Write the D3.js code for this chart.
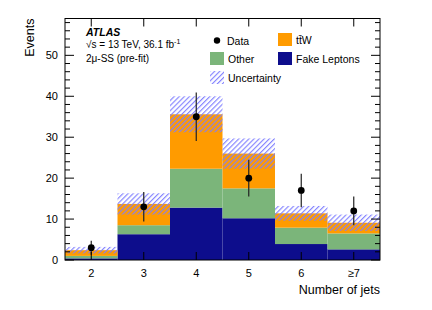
<!DOCTYPE html>
<html>
<head>
<meta charset="utf-8">
<script src="https://cdn.jsdelivr.net/npm/d3@7"></script>
<style>
  body { margin: 0; background: #fff; }
  svg { display: block; font-family: "Liberation Sans", Arial, sans-serif; }
</style>
</head>
<body>
<div id="chart"></div>
<script>
// number of jets bins
const categories = ["2", "3", "4", "5", "6", "\u22657"];
const fakeLeptons = [0.4, 6.3, 12.8, 10.2, 3.9, 2.6];
const other = [0.6, 2.2, 9.5, 7.3, 4.0, 3.9];
const ttW = [1.4, 5.2, 13.3, 8.5, 3.5, 2.6];
const uncertainty = [0.8, 2.6, 4.4, 3.7, 1.8, 2.0];
const dataValues = [3, 13, 35, 20, 17, 12];
const dataErrors = [1.7, 3.6, 5.9, 4.5, 4.1, 3.5];
const yMajorTicks = [0, 10, 20, 30, 40, 50];

const width = 432, height = 310;
const margin = { top: 18.5, right: 52, bottom: 50, left: 65 };

const colors = { fake: "#0d0d8c", other: "#7bb57a", ttW: "#ff9b00", hatch: "#7d7dff" };

const svg = d3.select("#chart").append("svg")
  .attr("width", width)
  .attr("height", height);

const defs = svg.append("defs");
const pat = defs.append("pattern")
  .attr("id", "hatch")
  .attr("patternUnits", "userSpaceOnUse")
  .attr("width", 3.6)
  .attr("height", 3.6)
  .attr("patternTransform", "rotate(45)");
pat.append("line")
  .attr("x1", 0.6).attr("y1", 0).attr("x2", 0.6).attr("y2", 3.6)
  .attr("stroke", colors.hatch)
  .attr("stroke-width", 1.1);

const x = d3.scaleLinear().domain([0, categories.length]).range([margin.left, width - margin.right]);
const y = d3.scaleLinear().domain([0, 59]).range([height - margin.bottom, margin.top]);

const rows = categories.map((c, i) => ({ i: i, fake: fakeLeptons[i], other: other[i], ttW: ttW[i] }));
const stack = d3.stack().keys(["fake", "other", "ttW"]);
const series = stack(rows);

// stacked backgrounds
svg.append("g").selectAll("g")
  .data(series)
  .join("g")
  .attr("fill", d => colors[d.key])
  .selectAll("rect")
  .data(d => d)
  .join("rect")
  .attr("x", d => x(d.data.i))
  .attr("width", d => x(d.data.i + 1) - x(d.data.i))
  .attr("y", d => y(d[1]))
  .attr("height", d => y(d[0]) - y(d[1]));

// uncertainty band
const totals = series[series.length - 1].map(d => d[1]);
svg.append("g").selectAll("rect")
  .data(totals)
  .join("rect")
  .attr("x", (d, i) => x(i))
  .attr("width", (d, i) => x(i + 1) - x(i))
  .attr("y", (d, i) => y(d + uncertainty[i]))
  .attr("height", (d, i) => y(d - uncertainty[i]) - y(d + uncertainty[i]))
  .attr("fill", "url(#hatch)");

// data points
const pts = svg.append("g");
pts.selectAll("line")
  .data(dataValues)
  .join("line")
  .attr("x1", (d, i) => x(i + 0.5))
  .attr("x2", (d, i) => x(i + 0.5))
  .attr("y1", (d, i) => y(Math.max(0, d - dataErrors[i])))
  .attr("y2", (d, i) => y(d + dataErrors[i]))
  .attr("stroke", "#222")
  .attr("stroke-width", 1.2);
pts.selectAll("circle")
  .data(dataValues)
  .join("circle")
  .attr("cx", (d, i) => x(i + 0.5))
  .attr("cy", d => y(d))
  .attr("r", 3.4)
  .attr("fill", "#000");

// frame and ticks
const x0 = x(0), x1 = x(categories.length), yb = y(0), yt = y.range()[1];
const axes = svg.append("g").attr("stroke", "#000").attr("stroke-width", 1);
axes.append("rect")
  .attr("x", x0).attr("y", yt)
  .attr("width", x1 - x0).attr("height", yb - yt)
  .attr("fill", "none");

d3.range(0, 59, 2).forEach(v => {
  const len = v % 10 === 0 ? 9 : 5;
  axes.append("line").attr("x1", x0).attr("x2", x0 + len).attr("y1", y(v)).attr("y2", y(v));
  axes.append("line").attr("x1", x1).attr("x2", x1 - len).attr("y1", y(v)).attr("y2", y(v));
});

categories.forEach((c, i) => {
  axes.append("line").attr("x1", x(i + 0.5)).attr("x2", x(i + 0.5)).attr("y1", yb).attr("y2", yb - 8);
  axes.append("line").attr("x1", x(i + 0.5)).attr("x2", x(i + 0.5)).attr("y1", yt).attr("y2", yt + 8);
});

// tick labels
svg.append("g").selectAll("text")
  .data(yMajorTicks)
  .join("text")
  .attr("x", x0 - 7)
  .attr("y", d => y(d) + 4)
  .attr("text-anchor", "end")
  .attr("font-size", 11)
  .text(d => d);

svg.append("g").selectAll("text")
  .data(categories)
  .join("text")
  .attr("x", (d, i) => x(i + 0.5))
  .attr("y", yb + 17)
  .attr("text-anchor", "middle")
  .attr("font-size", 11)
  .text(d => d);

svg.append("text")
  .attr("x", x1)
  .attr("y", yb + 34)
  .attr("text-anchor", "end")
  .attr("font-size", 12.5)
  .text("Number of jets");

svg.append("text")
  .attr("transform", `translate(34,${yt}) rotate(-90)`)
  .attr("text-anchor", "end")
  .attr("font-size", 12.5)
  .text("Events");

// labels
svg.append("text")
  .attr("x", 86).attr("y", 36)
  .attr("font-size", 10.5)
  .attr("font-weight", "bold")
  .attr("font-style", "italic")
  .text("ATLAS");
const lumi = svg.append("text").attr("x", 86).attr("y", 48).attr("font-size", 10);
lumi.append("tspan").text("\u221As = 13 TeV, 36.1 fb");
lumi.append("tspan").attr("font-size", 7).attr("dy", -4).text("-1");
svg.append("text")
  .attr("x", 86).attr("y", 62)
  .attr("font-size", 10)
  .text("2\u03bc-SS (pre-fit)");

// legend
const legend = svg.append("g").attr("font-size", 10.5);
legend.append("circle").attr("cx", 217).attr("cy", 40.5).attr("r", 3.2).attr("fill", "#000");
legend.append("text").attr("x", 227).attr("y", 45).text("Data");

const boxes = [
  { x: 278, y: 33, fill: colors.ttW, label: "t\u0074\u0304W" },
  { x: 210, y: 52, fill: colors.other, label: "Other" },
  { x: 278, y: 52, fill: colors.fake, label: "Fake Leptons" },
  { x: 210, y: 71, fill: "url(#hatch)", label: "Uncertainty" }
];
boxes.forEach(b => {
  legend.append("rect").attr("x", b.x).attr("y", b.y).attr("width", 14).attr("height", 13).attr("fill", b.fill);
  legend.append("text").attr("x", b.x + 18).attr("y", b.y + 11).text(b.label);
});
</script>
</body>
</html>
